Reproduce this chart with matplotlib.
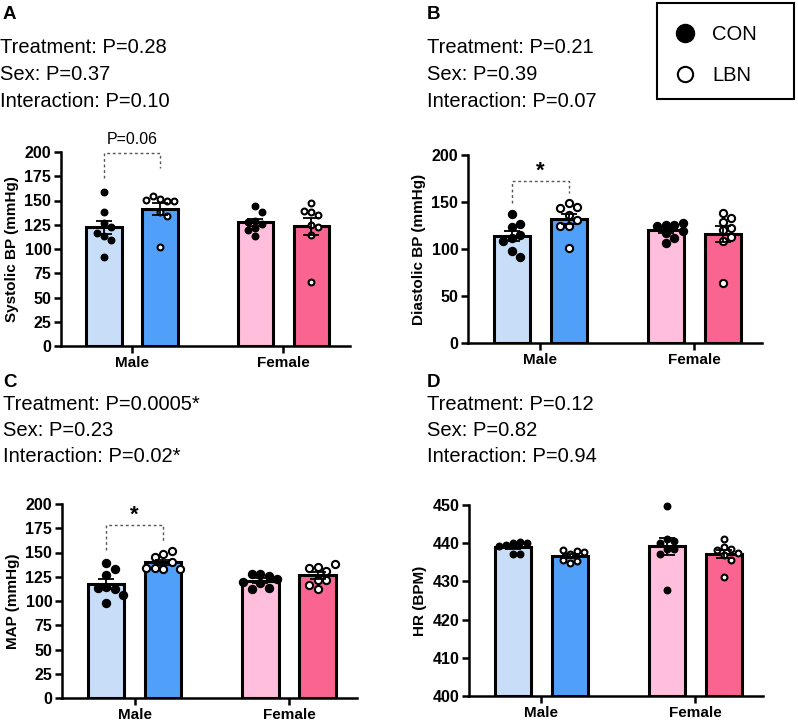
import numpy as np
import matplotlib
matplotlib.use("Agg")
import matplotlib.pyplot as plt
from matplotlib.lines import Line2D
from matplotlib.patches import Rectangle

plt.rcParams['font.family'] = ['Liberation Sans', 'DejaVu Sans']

groups = ['Male', 'Female']
treatments = ['CON', 'LBN']

# panel A - systolic BP (mmHg)
sbp_male_con = [159, 138, 127, 123, 113, 117, 109, 92]
sbp_male_lbn = [152, 149, 155, 149, 151, 138, 134, 102]
sbp_female_con = [144, 138, 129, 126, 128, 122, 120, 113]
sbp_female_lbn = [147, 138, 135, 139, 125, 123, 114, 66]

# panel B - diastolic BP (mmHg)
dbp_male_con = [137, 123, 127, 112, 115, 109, 98, 91]
dbp_male_lbn = [149, 145, 144, 136, 131, 124, 125, 101]
dbp_female_con = [126, 126, 124, 128, 117, 119, 112, 106]
dbp_female_lbn = [138, 133, 129, 122, 120, 113, 108, 64]

# panel C - MAP (mmHg)
map_male_con = [139, 133, 127, 114, 112, 113, 106, 98]
map_male_lbn = [148, 152, 145, 140, 133, 134, 133, 134]
map_female_con = [128, 126, 128, 123, 120, 119, 113, 112]
map_female_lbn = [135, 131, 134, 138, 122, 122, 117, 112]

# panel D - HR (BPM)
hr_male_con = [440.0, 440.2, 439.5, 440.1, 439.3, 437.2, 437.2]
hr_male_lbn = [437.1, 438.0, 438.2, 437.8, 434.7, 435.4, 435.6]
hr_female_con = [449.7, 441.0, 440.6, 440.1, 438.6, 438.4, 437.1, 427.7]
hr_female_lbn = [441.2, 439.0, 438.4, 438.2, 437.5, 437.0, 435.6, 431.1]

stats_a = ['Treatment: P=0.28', 'Sex: P=0.37', 'Interaction: P=0.10']
stats_b = ['Treatment: P=0.21', 'Sex: P=0.39', 'Interaction: P=0.07']
stats_c = ['Treatment: P=0.0005*', 'Sex: P=0.23', 'Interaction: P=0.02*']
stats_d = ['Treatment: P=0.12', 'Sex: P=0.82', 'Interaction: P=0.94']

colors = ['#C8DEF8', '#50A0FA', '#FFBEDC', '#FA6491']

W, H = 798, 721
fig = plt.figure(figsize=(W / 100, H / 100), dpi=100)


def px_axes(x0, x1, ytop, ybot):
    return fig.add_axes([x0 / W, 1 - ybot / H, (x1 - x0) / W, (ybot - ytop) / H])


def swarm(ax, xc, vals, diam):
    # simple beeswarm in pixel space
    pts = ax.transData.transform(np.column_stack([np.full(len(vals), xc), vals]))
    placed = []
    xs = []
    for px, py in pts:
        k = 0
        while True:
            off = ((k + 1) // 2) * diam * (1 if k % 2 else -1) if k else 0
            if all((px + off - qx) ** 2 + (py - qy) ** 2 >= (diam * 0.95) ** 2 for qx, qy in placed):
                break
            k += 1
        placed.append((px + off, py))
        xs.append(ax.transData.inverted().transform((px + off, py))[0])
    return xs


panels = [
    dict(box=(61, 350, 152, 346), ylim=(0, 200), yticks=np.arange(0, 201, 25),
         ylabel='Systolic BP (mmHg)', data=[sbp_male_con, sbp_male_lbn, sbp_female_con, sbp_female_lbn],
         label='A', lx=3, stats=stats_a, sx=0, sy=(53, 80, 107), ly=19, ms=6.5,
         br=(173, 199, 183.5), mark='P=0.06', mark_y=213),
    dict(box=(468, 762, 155, 343), ylim=(0, 200), yticks=np.arange(0, 201, 50),
         ylabel='Diastolic BP (mmHg)', data=[dbp_male_con, dbp_male_lbn, dbp_female_con, dbp_female_lbn],
         label='B', lx=427, stats=stats_b, sx=427, sy=(53, 80, 107), ly=19, ms=8,
         br=(149, 172.7, 159.6), mark='*', mark_y=183),
    dict(box=(62, 357, 504, 698), ylim=(0, 200), yticks=np.arange(0, 201, 25),
         ylabel='MAP (mmHg)', data=[map_male_con, map_male_lbn, map_female_con, map_female_lbn],
         label='C', lx=3, stats=stats_c, sx=3, sy=(410, 436, 462), ly=387, ms=8,
         br=(152.6, 178.4, 162.2), mark='*', mark_y=188),
    dict(box=(469, 763, 505, 696), ylim=(400, 450), yticks=np.arange(400, 451, 10),
         ylabel='HR (BPM)', data=[hr_male_con, hr_male_lbn, hr_female_con, hr_female_lbn],
         label='D', lx=427, stats=stats_d, sx=427, sy=(410, 436, 462), ly=387, ms=6.5,
         br=None),
]

off = 0.185
bw = 0.235
for p in panels:
    ax = px_axes(*p['box'])
    ax.set_xlim(-0.47, 1.44)
    ax.set_ylim(*p['ylim'])
    for s in ['top', 'right']:
        ax.spines[s].set_visible(False)
    for s in ['left', 'bottom']:
        ax.spines[s].set_linewidth(1.8)
    ax.set_yticks(p['yticks'])
    ax.set_xticks([0, 1])
    ax.set_xticklabels(groups, fontsize=11, fontweight='bold')
    ax.tick_params(axis='both', width=1.8, length=5, labelsize=11.5, pad=2)
    ax.tick_params(axis='x', labelsize=11)
    for t in ax.get_yticklabels():
        t.set_fontweight('bold')
    ax.set_ylabel(p['ylabel'], fontsize=11, fontweight='bold', labelpad=4)

    for i, vals in enumerate(p['data']):
        xc = (i // 2) + (-off if i % 2 == 0 else off)
        v = np.array(vals)
        mean = v.mean()
        sem = v.std(ddof=1) / np.sqrt(len(v))
        base = p['ylim'][0]
        ax.bar(xc, mean - base, bottom=base, width=bw, color=colors[i],
               edgecolor='black', linewidth=2.2, zorder=2)
        xs = swarm(ax, xc, v, p['ms'] + 0.5)
        if i % 2 == 0:
            ax.plot(xs, v, 'o', color='black', ms=p['ms'] * 0.72, zorder=3, clip_on=False)
        else:
            ax.plot(xs, v, 'o', mfc='white', mec='black', mew=1.5,
                    ms=p['ms'] * 0.72 * 0.9, zorder=3, clip_on=False)
        ax.errorbar(xc, mean, yerr=sem, color='black', capsize=6,
                    elinewidth=1.3, capthick=1.3, zorder=4)

    if p['br']:
        b1, top, b2 = p['br']
        ax.plot([-off, -off, off, off], [b1, top, top, b2], color='#555555',
                lw=1, ls=(0, (2, 2)), clip_on=False, zorder=5)
        if p['mark'] == '*':
            ax.text(0, p['mark_y'], '*', ha='center', va='center', fontsize=16,
                    fontweight='bold')
        else:
            ax.text(0, p['mark_y'], p['mark'], ha='center', va='center', fontsize=11.5)

    fig.text(p['lx'] / W, 1 - p['ly'] / H, p['label'], fontsize=13.5,
             fontweight='bold', ha='left', va='baseline')
    for txt, yy in zip(p['stats'], p['sy']):
        fig.text(p['sx'] / W, 1 - yy / H, txt, fontsize=14.5, ha='left', va='baseline')

# legend box
fig.add_artist(Rectangle((657 / W, 1 - 99 / H), (794 - 657) / W, (99 - 3) / H,
                         transform=fig.transFigure, fill=False, edgecolor='black', lw=1.5))
handles = [Line2D([], [], ls='none', marker='o', color='black', ms=13),
           Line2D([], [], ls='none', marker='o', mfc='white', mec='black', mew=1.5, ms=11)]
fig.legend(handles, treatments, loc='upper left', bbox_to_anchor=(657 / W, 1 - 9 / H),
           frameon=False, fontsize=14.5, handlelength=1.2, handletextpad=0.75,
           labelspacing=1.1, borderpad=0.3)

fig.savefig('out.png', dpi=100)
